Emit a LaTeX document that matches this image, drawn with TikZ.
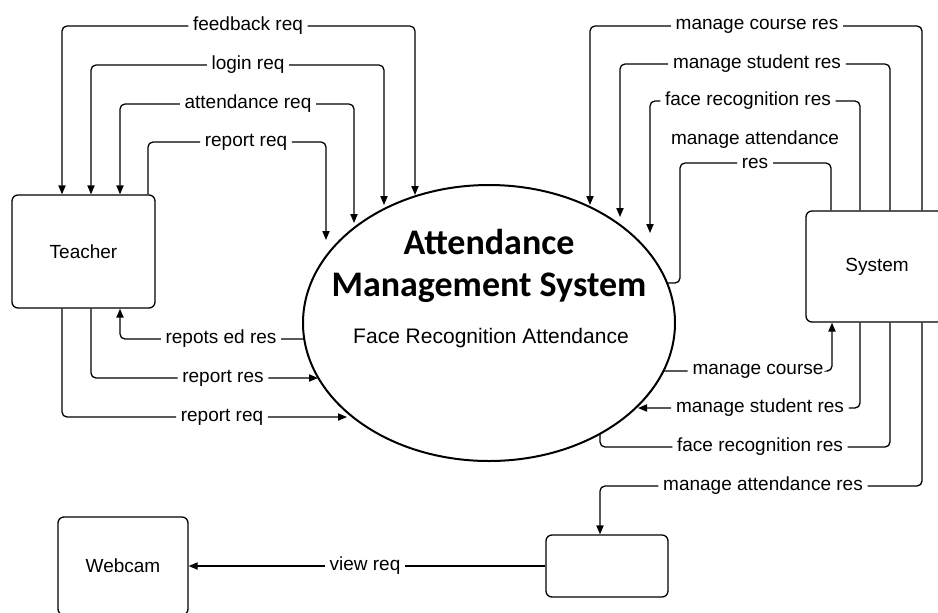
\documentclass[tikz,border=0pt]{standalone}
\usepackage{fontspec}
\setmainfont{Liberation Sans}
\newfontfamily\titlefont{Carlito}
\usepackage{tikz}
\usetikzlibrary{positioning}
\usetikzlibrary{shapes.geometric}
\usetikzlibrary{arrows.meta}
\tikzset{>={Triangle[length=4.5pt,width=3.6pt]}}
\tikzset{
  flow/.style={line width=0.65pt, rounded corners=2.5pt},
  lbl/.style={inner sep=2.2pt, font=\fontsize{9.5}{11}\selectfont},
  entity/.style={draw, line width=0.65pt, rounded corners=3pt,
                 font=\fontsize{9.5}{11}\selectfont}
}

\begin{document}
\begin{tikzpicture}[x=0.5pt,y=-0.5pt]

\useasboundingbox (0,0) rectangle (938,612);
\clip (0,0) rectangle (938,612);

% ---------- Process ----------
\node[ellipse, draw, line width=1pt, minimum width=186pt,
      minimum height=138pt, inner sep=0pt] (ams) at (489,323) {};
\node[font=\titlefont\bfseries\fontsize{18}{21}\selectfont, align=center]
  (title) at (489,266) {Attendance\\Management System};
\node[font=\fontsize{10.5}{12}\selectfont] (sub) at (491,338)
  {Face Recognition Attendance};

% ---------- Entities ----------
\node[entity, minimum width=71.5pt, minimum height=56.5pt] (teach) at (83.5,251.5) {Teacher};
\node[entity, minimum width=71pt, minimum height=55.5pt] (sys) at (877,266.5) {System};
\node[entity, minimum width=65pt, minimum height=49pt] (webcam) at (123,566) {Webcam};
\node[entity, minimum width=61pt, minimum height=31pt] (blank) at (607,566) {};

% ---------- Teacher <-> process (top) ----------
\foreach \n/\xa/\xb/\yb/\lev/\txt in {
  fb/62/415/195/26/feedback req,
  lg/91/384/205/65/login req,
  att/120/354/223/104/attendance req
}{
  \coordinate (\n-in) at (\xb,\yb);
  \node[lbl] (\n) at (248,\lev) {\txt};
  \draw[flow,->] (\n) -| (teach.north -| \xa,0);
  \draw[flow,->] (\n) -| (\n-in);
}

\coordinate (rq-in) at (326,240);
\node[lbl] (rq) at (246,142) {report req};
\draw[flow,->] (teach.north -| 148,0) |- (rq) -| (rq-in);

% ---------- Teacher <-> process (bottom) ----------
\coordinate (red-out) at (304,339);
\node[lbl] (red) at (221,339) {repots ed res};
\draw[flow,->] (red-out) -- (red) -| (teach.south -| 120,0);

\coordinate (rs-in) at (318,378);
\node[lbl] (rs) at (223,378) {report res};
\draw[flow,->] (teach.south -| 91,0) |- (rs) -- (rs-in);

\coordinate (rq2-in) at (347,417);
\node[lbl] (rq2) at (222,417) {report req};
\draw[flow,->] (teach.south -| 62,0) |- (rq2) -- (rq2-in);

% ---------- System -> process (top) ----------
\foreach \n/\xa/\xb/\yb/\lx/\lev/\txt in {
  mcr/922/590/205/757/26/manage course res,
  msr/890/620/217/757/64/manage student res,
  frr/860/650/233/748/101/face recognition res
}{
  \coordinate (\n-in) at (\xb,\yb);
  \node[lbl] (\n) at (\lx,\lev) {\txt};
  \draw[flow,->] (sys.north -| \xa,0) |- (\n) -| (\n-in);
}

\coordinate (mar-in) at (667,283);
\coordinate (mar-bend) at (680,283);
\node[lbl] (mar) at (755,163) {res};
\node[lbl] (mar-top) at (755,140) {manage attendance};
\draw[flow] (sys.north -| 831,0) |- (mar) -| (mar-bend) -- (mar-in);

% ---------- process <-> System (bottom) ----------
\coordinate (mc-out) at (663,371);
\node[lbl] (mc) at (758,371) {manage course};
\draw[flow,->] (mc-out) -- (mc) -| (sys.south -| 832,0);

\coordinate (msb-in) at (638,408);
\node[lbl] (msb) at (760,408) {manage student res};
\draw[flow,->] (sys.south -| 860,0) |- (msb) -- (msb-in);

\coordinate (frb-in) at (600,434);
\node[lbl] (frb) at (760,447) {face recognition res};
\draw[flow] (sys.south -| 890,0) |- (frb) -| (frb-in);

% ---------- System -> store ----------
\node[lbl] (mab) at (763,486) {manage attendance res};
\draw[flow,->] (sys.south -| 922,0) |- (mab) -| (blank.north -| 600,0);

% ---------- store -> Webcam ----------
\node[lbl] (vr) at (365,566) {view req};
\draw[flow,->] (blank) -- (vr) -- (webcam);

\end{tikzpicture}
\end{document}
